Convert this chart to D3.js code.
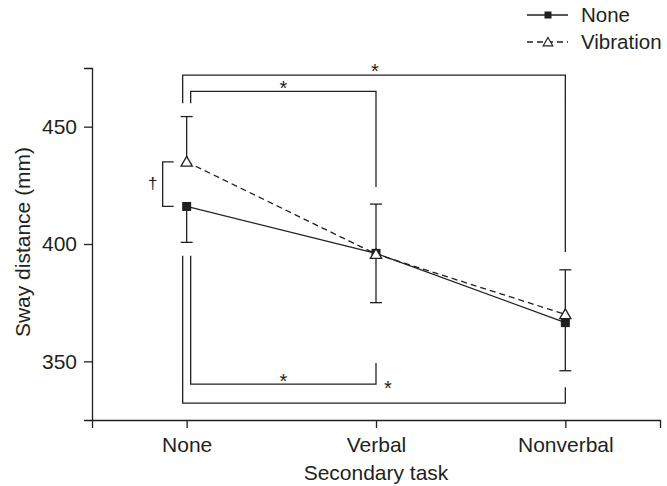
<!DOCTYPE html>
<html>
<head>
<meta charset="utf-8">
<script src="https://cdnjs.cloudflare.com/ajax/libs/d3/7.8.5/d3.min.js"></script>
<style>
  body { margin: 0; background: #fff; }
  text { font-family: "Liberation Sans", Arial, sans-serif; fill: #231f20; }
</style>
</head>
<body>
<div id="chart-area"></div>
<script>
let width = 667;
let height = 486;

// data
const categories = ["None", "Verbal", "Nonverbal"];
const noneMeans = [416, 396, 366.5];
const vibMeans = [435, 395.7, 370];
const noneErrLow = [400.7, 375, 346];   // None: error bars drawn downward
const vibErrHigh = [454.3, 417, 389];   // Vibration: error bars drawn upward
const yTicks = [350, 400, 450];
const seriesNames = ["None", "Vibration"];

const ink = "#231f20";

let svg = d3.select("#chart-area")
	.append("svg")
	.attr("width", width)
	.attr("height", height);

let x = d3.scalePoint()
	.domain(categories)
	.range([92, 660])
	.padding(0.5);

let y = d3.scaleLinear()
	.domain([325, 475])
	.range([420, 68]);

// axes
let xAxis = d3.axisBottom(x).tickSize(8).tickSizeOuter(8).tickPadding(9);
let yAxis = d3.axisLeft(y).tickValues(yTicks).tickSize(8).tickSizeOuter(8).tickPadding(7);

let gx = svg.append("g")
	.attr("transform", "translate(0,420)")
	.call(xAxis);
let gy = svg.append("g")
	.attr("transform", "translate(92,0)")
	.call(yAxis);

[gx, gy].forEach(g => {
	g.selectAll("path, line").attr("stroke", ink).attr("stroke-width", 1.3);
	g.selectAll("text")
		.style("font-family", "'Liberation Sans', Arial, sans-serif")
		.style("font-size", "21px")
		.attr("fill", ink);
});

svg.append("text")
	.attr("x", x("Verbal"))
	.attr("y", 480)
	.attr("text-anchor", "middle")
	.style("font-size", "21px")
	.text("Secondary task");

svg.append("text")
	.attr("transform", "translate(30,242) rotate(-90)")
	.attr("text-anchor", "middle")
	.style("font-size", "21px")
	.text("Sway distance (mm)");

// error bars
function errorBars(means, ends) {
	let g = svg.append("g").attr("stroke", ink).attr("stroke-width", 1.3);
	categories.forEach((c, i) => {
		g.append("line")
			.attr("x1", x(c)).attr("x2", x(c))
			.attr("y1", y(means[i])).attr("y2", y(ends[i]));
		g.append("line")
			.attr("x1", x(c) - 6).attr("x2", x(c) + 6)
			.attr("y1", y(ends[i])).attr("y2", y(ends[i]));
	});
}
errorBars(noneMeans, noneErrLow);
errorBars(vibMeans, vibErrHigh);

// lines
let line = d3.line()
	.x((d, i) => x(categories[i]))
	.y(d => y(d));

svg.append("path")
	.datum(noneMeans)
	.attr("d", line)
	.attr("fill", "none")
	.attr("stroke", ink)
	.attr("stroke-width", 1.3);

svg.append("path")
	.datum(vibMeans)
	.attr("d", line)
	.attr("fill", "none")
	.attr("stroke", ink)
	.attr("stroke-width", 1.3)
	.attr("stroke-dasharray", "6,4");

// markers
let squareSym = d3.symbol().type(d3.symbolSquare).size(81);
let triSym = d3.symbol().type(d3.symbolTriangle).size(55);

svg.selectAll(".sq")
	.data(noneMeans)
	.enter()
	.append("path")
	.attr("class", "sq")
	.attr("d", squareSym)
	.attr("transform", (d, i) => `translate(${x(categories[i])},${y(d)})`)
	.attr("fill", ink);

svg.selectAll(".tri")
	.data(vibMeans)
	.enter()
	.append("path")
	.attr("class", "tri")
	.attr("d", triSym)
	.attr("transform", (d, i) => `translate(${x(categories[i])},${y(d) + 1})`)
	.attr("fill", "#fff")
	.attr("stroke", ink)
	.attr("stroke-width", 1.3);

// significance brackets (in data units)
let br = svg.append("g").attr("fill", "none").attr("stroke", ink).attr("stroke-width", 1.3);
let x0o = x("None") - 4, x0i = x("None") + 4;
let pts = [
	[[x0o, y(460)], [x0o, y(472)], [x("Nonverbal"), y(472)], [x("Nonverbal"), y(396.6)]],
	[[x0i, y(460)], [x0i, y(465)], [x("Verbal"), y(465)], [x("Verbal"), y(424.3)]],
	[[x0i, y(395)], [x0i, y(340.3)], [x("Verbal"), y(340.3)], [x("Verbal"), y(349.3)]],
	[[x0o, y(395)], [x0o, y(332.2)], [x("Nonverbal"), y(332.2)], [x("Nonverbal"), y(339)]],
	[[x0o - 9, y(435)], [x0o - 20, y(435)], [x0o - 20, y(416)], [x0o - 9, y(416)]]
];
pts.forEach(p => br.append("path").attr("d", d3.line()(p)));

// stars: [x, baseline y, symbol, font size]
let stars = [
	[x("Verbal") - 1, y(472) + 2.5, "*", 20],
	[(x0i + x("Verbal")) / 2, y(465) + 4, "*", 20],
	[(x0i + x("Verbal")) / 2, y(340.3) + 3.5, "*", 20],
	[x("Verbal") + 12, y(340.3) + 10.5, "*", 20],
	[x0o - 30, y(425.5) + 5, "\u2020", 17]
];
svg.selectAll(".star")
	.data(stars)
	.enter()
	.append("text")
	.attr("class", "star")
	.attr("x", d => d[0])
	.attr("y", d => d[1])
	.attr("text-anchor", "middle")
	.attr("fill", ink)
	.style("font-size", d => d[3] + "px")
	.text(d => d[2]);

// legend
let lg = svg.append("g").attr("transform", "translate(527,0)");
seriesNames.forEach((name, i) => {
	let ly = 15 + i * 27;
	lg.append("line")
		.attr("x1", 0).attr("x2", 41)
		.attr("y1", ly).attr("y2", ly)
		.attr("stroke", ink).attr("stroke-width", 1.3)
		.attr("stroke-dasharray", i === 1 ? "6,4" : null);
	lg.append("path")
		.attr("d", i === 0 ? d3.symbol().type(d3.symbolSquare).size(49)() : d3.symbol().type(d3.symbolTriangle).size(40)())
		.attr("transform", `translate(21,${ly + (i === 1 ? 1 : 0)})`)
		.attr("fill", i === 0 ? ink : "#fff")
		.attr("stroke", i === 0 ? null : ink)
		.attr("stroke-width", 1.2);
	lg.append("text")
		.attr("x", 54)
		.attr("y", ly + 7)
		.style("font-size", "20.5px")
		.text(name);
});
</script>
</body>
</html>
